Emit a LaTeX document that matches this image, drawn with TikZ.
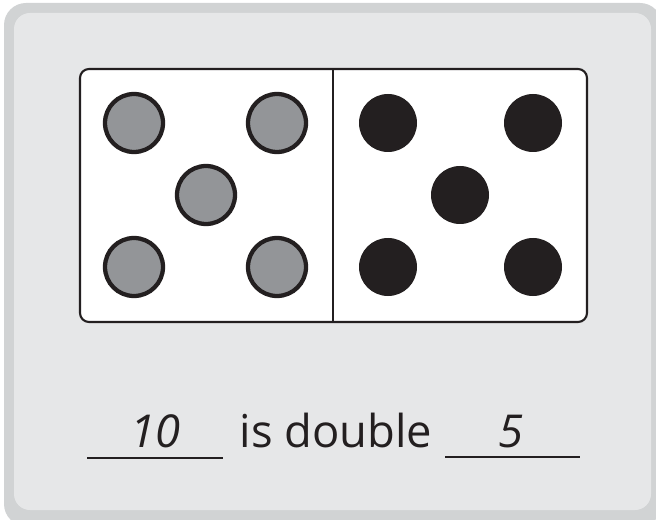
\documentclass[tikz,border=0pt]{standalone}
\usepackage{fontspec}
\setmainfont{Open Sans}
\definecolor{frameg}{HTML}{D1D3D4}
\definecolor{panelg}{HTML}{E6E7E8}
\definecolor{dotg}{HTML}{939598}
\definecolor{ink}{HTML}{231F20}
\begin{document}
\begin{tikzpicture}[x=0.75pt,y=-0.75pt,
  graydot/.style={circle,draw=ink,line width=3.2pt,fill=dotg,minimum size=58*0.75pt,inner sep=0pt},
  blackdot/.style={circle,fill=ink,minimum size=58*0.75pt,inner sep=0pt},
  blank/.style={draw=ink,line width=1.6pt},
  txt/.style={font=\fontsize{34}{40}\selectfont,text=ink,inner sep=0pt,anchor=base}]
\useasboundingbox (0,0) rectangle (656,520);
\fill[frameg,rounded corners=22*0.75pt] (4,3) rectangle (662,526);
\fill[panelg,rounded corners=16*0.75pt] (14,13) rectangle (651,510);
\draw[ink,line width=1.6pt,fill=white,rounded corners=9*0.75pt] (80,69) rectangle (587,322);
\coordinate (dt) at (333,69);
\coordinate (db) at (333,322);
\draw[ink,line width=1.6pt] (dt) -- (db);
\node[graydot] (g1) at (134,123) {};
\node[graydot] (g2) at (277,123) {};
\node[graydot] (g3) at (206,195) {};
\node[graydot] (g4) at (134,267) {};
\node[graydot] (g5) at (277,267) {};
\node[blackdot] (b1) at (388,123) {};
\node[blackdot] (b2) at (533,123) {};
\node[blackdot] (b3) at (460,195) {};
\node[blackdot] (b4) at (388,267) {};
\node[blackdot] (b5) at (533,267) {};
\coordinate (u1a) at (87,458);
\coordinate (u1b) at (223,458);
\coordinate (u2a) at (445,457);
\coordinate (u2b) at (580,457);
\draw[blank] (u1a) -- (u1b);
\draw[blank] (u2a) -- (u2b);
\node[txt,font=\fontsize{34}{40}\selectfont\itshape] (ten) at (155,447) {10};
\node[txt] (isd) at (336,447) {is double};
\node[txt,font=\fontsize{34}{40}\selectfont\itshape] (five) at (511,447) {5};
\end{tikzpicture}
\end{document}
